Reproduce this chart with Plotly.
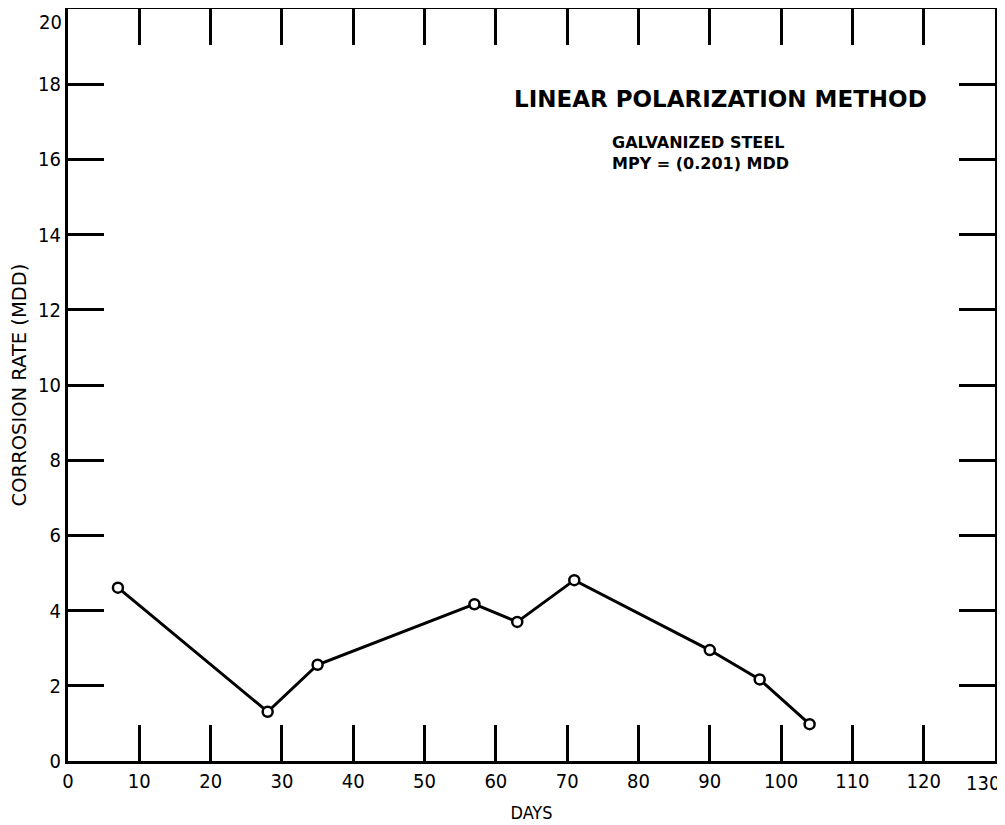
import plotly.graph_objects as go

days = [7, 28, 35, 57, 63, 71, 90, 97, 104]
rate_mdd = [4.61, 1.31, 2.56, 4.17, 3.70, 4.81, 2.95, 2.17, 0.98]

x_ticks = list(range(0, 131, 10))
y_ticks = list(range(0, 21, 2))

title_text = "LINEAR POLARIZATION METHOD"
sub_text = "GALVANIZED STEEL<br>MPY = (0.201) MDD"

COND = "DejaVu Sans Condensed, Liberation Sans Narrow, sans-serif"
WIDE = "DejaVu Sans, sans-serif"
TICK_SIZE = 20

fig = go.Figure()
fig.add_trace(go.Scatter(
    x=days, y=rate_mdd, mode="lines+markers",
    line=dict(color="black", width=3),
    marker=dict(symbol="circle", size=10, color="white",
                line=dict(color="black", width=2.5)),
    showlegend=False, cliponaxis=False,
))

axis_common = dict(
    showline=True, linecolor="black", linewidth=3, mirror="ticks",
    ticks="inside", tickcolor="black", tickwidth=2.5, ticklen=36,
    showgrid=False, zeroline=False, automargin=False,
    ticklabeloverflow="allow",
    tickfont=dict(family=COND, size=TICK_SIZE, color="black"),
)

# last labels at the chart edges are drawn as annotations so they are not clipped
x_text = [str(v) for v in x_ticks]
x_text[-1] = ""
y_text = [str(v) for v in y_ticks]
y_text[-1] = ""

fig.update_xaxes(range=[0, 130], tickvals=x_ticks, ticktext=x_text,
                 title=dict(text="DAYS", font=dict(family=COND, size=18, color="black"), standoff=15),
                 **axis_common)
fig.update_yaxes(range=[0, 20], tickvals=y_ticks, ticktext=y_text,
                 title=dict(text="CORROSION RATE (MDD)", font=dict(family=WIDE, size=19.5, color="black"), standoff=13),
                 **axis_common)

fig.add_annotation(x=x_ticks[-1], y=0, xref="x", yref="y", text=str(x_ticks[-1]),
                   showarrow=False, xanchor="center", yanchor="top", xshift=-12, yshift=-8,
                   font=dict(family=COND, size=TICK_SIZE, color="black"))
fig.add_annotation(x=0, y=y_ticks[-1], xref="x", yref="y", text=str(y_ticks[-1]),
                   showarrow=False, xanchor="right", yanchor="top", xshift=-4, yshift=1,
                   font=dict(family=COND, size=TICK_SIZE, color="black"))

fig.add_annotation(x=62.3, y=17.6, xref="x", yref="y", text="<b>" + title_text + "</b>",
                   showarrow=False, xanchor="left", yanchor="middle",
                   font=dict(family=WIDE, size=23, color="black"))
fig.add_annotation(x=76.0, y=16.18, xref="x", yref="y", text="<b>" + sub_text + "</b>",
                   showarrow=False, xanchor="left", yanchor="middle", align="left",
                   font=dict(family=WIDE, size=16, color="black"))

# the page body adds an 8px offset; the figure is sized to end at the window edge
fig.update_layout(
    width=997, height=817, autosize=False,
    margin=dict(l=60, r=10, t=1, b=64),
    paper_bgcolor="white", plot_bgcolor="white",
)

fig.write_html("out.html")
